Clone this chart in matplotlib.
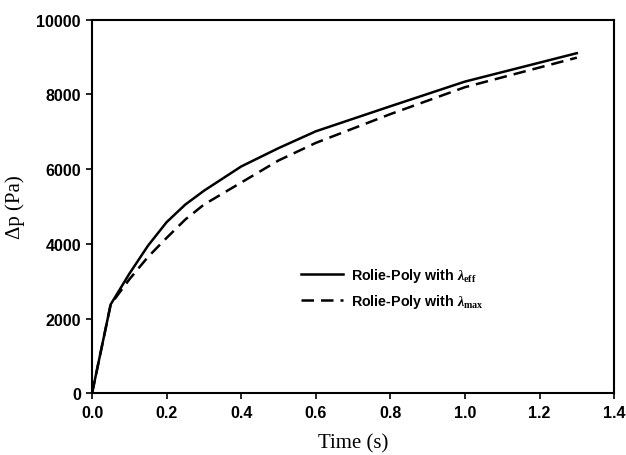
import matplotlib
matplotlib.use("Agg")
import matplotlib.pyplot as plt

time_eff = [0.0, 0.05, 0.1, 0.15, 0.2, 0.25, 0.3, 0.4, 0.5, 0.6, 0.8, 1.0, 1.3]
dp_eff = [0, 2380, 3200, 3950, 4580, 5050, 5420, 6070, 6560, 7010, 7680, 8340, 9100]
time_max = [0.0, 0.05, 0.1, 0.15, 0.2, 0.25, 0.3, 0.4, 0.5, 0.6, 0.8, 1.0, 1.3]
dp_max = [0, 2380, 3050, 3650, 4160, 4650, 5050, 5640, 6230, 6700, 7470, 8190, 8980]
label_eff = r"Rolie-Poly with $\lambda_{\mathrm{eff}}$"
label_max = r"Rolie-Poly with $\lambda_{\mathrm{max}}$"
xticks = [0.0, 0.2, 0.4, 0.6, 0.8, 1.0, 1.2, 1.4]
yticks = [0, 2000, 4000, 6000, 8000, 10000]

plt.rcParams['mathtext.fontset'] = 'custom'
plt.rcParams['mathtext.it'] = 'Liberation Serif:italic:bold'
plt.rcParams['mathtext.rm'] = 'Liberation Serif:bold'
plt.rcParams['mathtext.bf'] = 'Liberation Serif:bold'

fig = plt.figure(figsize=(6.26, 4.56), dpi=100)
ax = fig.add_axes([0.147, 0.135, 0.834, 0.82])

ax.plot(time_eff, dp_eff, color='black', lw=1.8, ls='-', label=label_eff)
ax.plot(time_max, dp_max, color='black', lw=1.8, ls=(0, (5, 2.8)), label=label_max)

ax.set_xlim(0, 1.4)
ax.set_ylim(0, 10000)
ax.set_xticks(xticks)
ax.set_xticklabels([f"{v:.1f}" for v in xticks])
ax.set_yticks(yticks)
ax.set_yticklabels([str(v) for v in yticks])
for lab in ax.get_xticklabels() + ax.get_yticklabels():
    lab.set_fontfamily('Liberation Sans')
    lab.set_fontweight('bold')
    lab.set_fontsize(11.5)
ax.tick_params(direction='out', length=4, width=1.2, top=False, right=False, pad=4)
for s in ax.spines.values():
    s.set_linewidth(1.5)

ax.set_xlabel("Time (s)", fontfamily='Liberation Serif', fontsize=15, labelpad=10)
ax.set_ylabel("Δp (Pa)", fontfamily='Liberation Serif', fontsize=15, labelpad=8)

leg = ax.legend(loc='upper left', bbox_to_anchor=(0.39, 0.355), frameon=False,
                prop={'family': 'Liberation Sans', 'weight': 'bold', 'size': 10.3},
                handlelength=2.9, handletextpad=0.55, labelspacing=0.5,
                borderaxespad=0)

fig.savefig("out.png", dpi=100)
